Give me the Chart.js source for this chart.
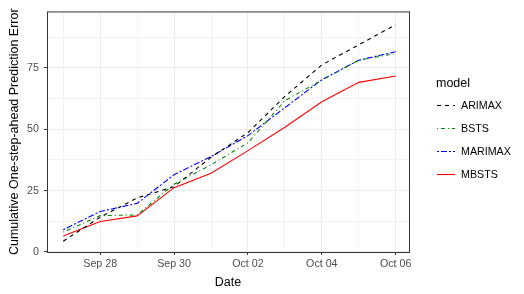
<!DOCTYPE html>
<html>
<head>
<meta charset="utf-8">
<script src="https://cdn.jsdelivr.net/npm/chart.js@4.4.0/dist/chart.umd.min.js"></script>
<style>
  html, body { margin: 0; padding: 0; background: #ffffff; }
  #wrap { width: 524px; height: 294px; }
</style>
</head>
<body>
<div id="wrap"><canvas id="chart" width="524" height="294"></canvas></div>
<script>
// data
const dates = ['Sep 27', 'Sep 28', 'Sep 29', 'Sep 30', 'Oct 01', 'Oct 02', 'Oct 03', 'Oct 04', 'Oct 05', 'Oct 06'];
const xTickLabels = ['Sep 28', 'Sep 30', 'Oct 02', 'Oct 04', 'Oct 06'];
const yTickLabels = [0, 25, 50, 75];
const yGridSteps = [0, 12.5, 25, 37.5, 50, 62.5, 75, 87.5];

const arimax = [4.4, 14.2, 22.0, 26.6, 38.6, 48.6, 63.4, 76.2, 84.4, 92.6];
const bsts = [8.1, 14.8, 15.1, 27.6, 35.5, 44.5, 61.7, 70.0, 78.1, 80.9];
const marimax = [9.1, 16.5, 19.8, 31.5, 38.9, 47.4, 58.8, 70.2, 78.1, 81.6];
const mbsts = [6.5, 12.4, 14.7, 26.2, 32.1, 41.3, 50.8, 61.2, 69.1, 71.7];

const models = ['ARIMAX', 'BSTS', 'MARIMAX', 'MBSTS'];
const series = [arimax, bsts, marimax, mbsts];

// styles
const lineColors = ['#000000', '#008B00', '#0000FF', '#FF0000'];
const lineDashes = [[4, 4], [1, 3, 4, 3], [2, 2, 6, 2], []];
const FONT = '"Liberation Sans", Arial, sans-serif';
const TITLE_SIZE = 12.5;
const TICK_SIZE = 10.7;

const datasets = models.map((name, i) => ({
    label: name,
    data: series[i].map((v, j) => ({ x: j, y: v })),
    borderColor: lineColors[i],
    borderDash: lineDashes[i],
    borderWidth: 1.1,
    pointRadius: 0,
    fill: false,
    tension: 0
}));

// panel border + legend on the right
const frameAndLegend = {
    id: 'frameAndLegend',
    afterDraw: (chart) => {
        const { ctx, chartArea: a } = chart;
        ctx.save();
        ctx.strokeStyle = '#333333';
        ctx.lineWidth = 1;
        ctx.setLineDash([]);
        ctx.strokeRect(a.left + 0.5, a.top + 0.5, a.right - a.left, a.bottom - a.top);

        ctx.fillStyle = '#000000';
        ctx.textBaseline = 'middle';
        ctx.textAlign = 'left';
        ctx.font = TITLE_SIZE + 'px ' + FONT;
        ctx.fillText('model', 436, 84);

        chart.data.datasets.forEach((ds, i) => {
            const y = 105 + i * 23;
            ctx.beginPath();
            ctx.setLineDash(ds.borderDash);
            ctx.strokeStyle = ds.borderColor;
            ctx.lineWidth = ds.borderWidth;
            ctx.moveTo(437, y + 0.5);
            ctx.lineTo(455, y + 0.5);
            ctx.stroke();
            ctx.setLineDash([]);
            ctx.font = TICK_SIZE + 'px ' + FONT;
            ctx.fillStyle = '#000000';
            ctx.fillText(ds.label, 461, y + 1);
        });
        ctx.restore();
    }
};

const isMajorY = (v) => yTickLabels.includes(v);
const isMajorX = (v) => xTickLabels.includes(dates[v]);

new Chart(document.getElementById('chart'), {
    type: 'line',
    data: { datasets: datasets },
    options: {
        responsive: false,
        animation: false,
        devicePixelRatio: 1,
        layout: { padding: { top: 7, right: 115, left: 0, bottom: 0 } },
        plugins: {
            legend: { display: false },
            tooltip: { enabled: false }
        },
        scales: {
            x: {
                type: 'linear',
                min: -0.44,
                max: 9.36,
                afterBuildTicks: (scale) => {
                    scale.ticks = dates.map((d, i) => ({ value: i }));
                },
                afterFit: (scale) => { scale.height = 42; },
                ticks: {
                    autoSkip: false,
                    maxRotation: 0,
                    padding: 3,
                    color: '#4d4d4d',
                    font: { family: FONT, size: TICK_SIZE },
                    callback: (v) => isMajorX(v) ? dates[v] : ''
                },
                grid: {
                    color: (c) => isMajorX(c.tick.value) ? '#ebebeb' : '#f2f2f2',
                    tickColor: (c) => isMajorX(c.tick.value) ? '#333333' : 'rgba(0,0,0,0)',
                    tickLength: 3
                },
                border: { display: false },
                title: {
                    display: true,
                    text: 'Date',
                    color: '#000000',
                    font: { family: FONT, size: TITLE_SIZE },
                    padding: { top: 0, bottom: 4 }
                }
            },
            y: {
                type: 'linear',
                min: 0,
                max: 98,
                afterBuildTicks: (scale) => {
                    scale.ticks = yGridSteps.map((v) => ({ value: v }));
                },
                afterFit: (scale) => { scale.width = 47; },
                ticks: {
                    padding: 5,
                    color: '#4d4d4d',
                    font: { family: FONT, size: TICK_SIZE },
                    callback: (v) => isMajorY(v) ? v : ''
                },
                grid: {
                    color: (c) => isMajorY(c.tick.value) ? '#ebebeb' : '#f2f2f2',
                    tickColor: (c) => isMajorY(c.tick.value) ? '#333333' : 'rgba(0,0,0,0)',
                    tickLength: 3
                },
                border: { display: false },
                title: {
                    display: true,
                    text: 'Cumulative One-step-ahead Prediction Error',
                    color: '#000000',
                    font: { family: FONT, size: TITLE_SIZE },
                    padding: { top: 7, bottom: 0 }
                }
            }
        }
    },
    plugins: [frameAndLegend]
});
</script>
</body>
</html>
